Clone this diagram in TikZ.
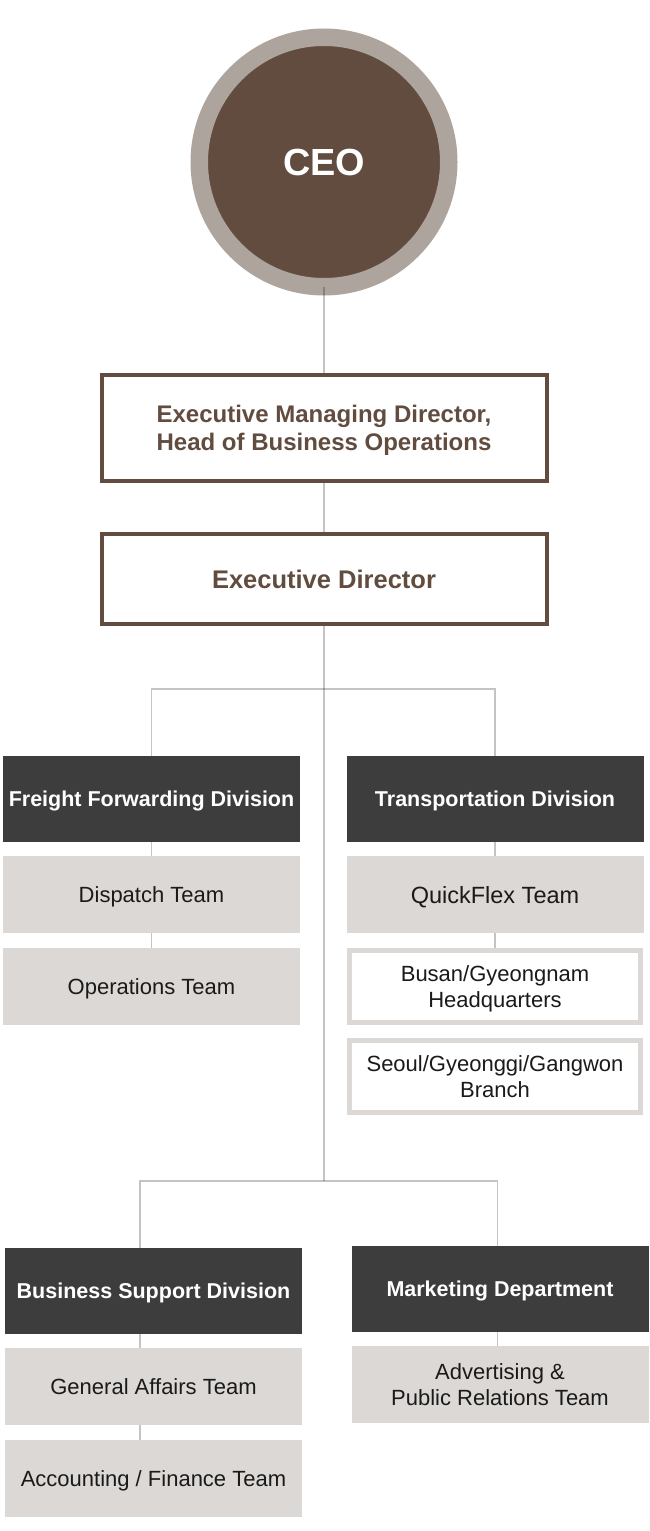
\documentclass[tikz,border=0pt]{standalone}
\usepackage{fontspec}
\setmainfont{Liberation Sans}
\usetikzlibrary{positioning}
\definecolor{ceobrown}{HTML}{614C3F}
\definecolor{ceoring}{HTML}{AEA49E}
\definecolor{divgray}{HTML}{3D3D3D}
\definecolor{teamgray}{HTML}{DCD8D5}
\definecolor{teamtext}{HTML}{1A1A1A}
\begin{document}
\begin{tikzpicture}[x=1pt,y=-1pt,on grid,
    ceonode/.style={circle,fill=ceobrown,draw=ceoring,line width=17.5pt,minimum size=249.5pt,inner sep=0pt,text=white,font=\fontsize{37.8}{40}\selectfont\bfseries},
    office/.style={rectangle,draw=ceobrown,line width=4pt,fill=white,minimum width=445pt,inner sep=0pt,align=center,text depth=0pt,text=ceobrown,font=\fontsize{24}{28}\selectfont\bfseries},
    division/.style={rectangle,fill=divgray,minimum width=297pt,minimum height=86pt,inner sep=0pt,text depth=0pt,text=white,font=\fontsize{21.5}{26}\selectfont\bfseries},
    team/.style={rectangle,fill=teamgray,minimum width=297pt,minimum height=77pt,inner sep=0pt,align=center,text depth=0pt,text=teamtext,font=\fontsize{22}{26.7}\selectfont},
    branch/.style={team,fill=white,draw=teamgray,line width=5pt,minimum width=291pt,minimum height=72pt},
    link/.style={draw=black,draw opacity=0.23,line width=1.6pt}]
    \useasboundingbox (0,0) rectangle (650,1531);
    % top of the chart
    \node[ceonode] (ceo) at (324,162) {CEO};
    \node[office,minimum height=106pt,below=266pt of ceo] (emd) {Executive Managing Director,\\Head of Business Operations};
    \node[office,minimum height=90pt,font=\fontsize{25.5}{28}\selectfont\bfseries,below=151pt of emd] (exd) {Executive Director};
    \coordinate (j1) at (324,689);
    \coordinate (j2) at (324,1181);
    % first row of divisions
    \node[division] (ffd) at (151.5,799) {Freight Forwarding Division};
    \node[team,below=95.5pt of ffd] (dsp) {Dispatch Team};
    \node[team,below=92pt of dsp] (ops) {Operations Team};
    \node[division] (trd) at (495,799) {Transportation Division};
    \node[team,font=\fontsize{23.5}{27}\selectfont,below=95.5pt of trd] (qfx) {QuickFlex Team};
    \node[branch,below=92pt of qfx] (bsn) {Busan/Gyeongnam\\Headquarters};
    \node[branch,below=90pt of bsn] (sel) {Seoul/Gyeonggi/Gangwon\\Branch};
    % second row of divisions
    \node[division] (bsd) at (153.5,1291) {Business Support Division};
    \node[team,below=95.5pt of bsd] (gat) {General Affairs Team};
    \node[team,below=92pt of gat] (acc) {Accounting / Finance Team};
    \node[division] (mkt) at (500,1289) {Marketing Department};
    \node[team,below=95.5pt of mkt] (adv) {Advertising \&\\Public Relations Team};
    % connectors
    \draw[link] ([yshift=8.75pt]ceo.south) -- (emd.north);
    \draw[link] (emd.south) -- (exd.north);
    \draw[link] (exd.south) -- (j2);
    \draw[link] (ffd.north) |- (j1) -| (trd.north);
    \draw[link] ([xshift=-13.5pt]bsd.north) |- (j2) -| ([xshift=-2.5pt]mkt.north);
    \draw[link] (ffd.south) -- (dsp.north);
    \draw[link] (dsp.south) -- (ops.north);
    \draw[link] (trd.south) -- (qfx.north);
    \draw[link] (qfx.south) -- (bsn.north);
    \draw[link] ([xshift=-13.5pt]bsd.south) -- ([xshift=-13.5pt]gat.north);
    \draw[link] ([xshift=-13.5pt]gat.south) -- ([xshift=-13.5pt]acc.north);
    \draw[link] ([xshift=-2.5pt]mkt.south) -- ([xshift=-2.5pt]adv.north);
\end{tikzpicture}
\end{document}
